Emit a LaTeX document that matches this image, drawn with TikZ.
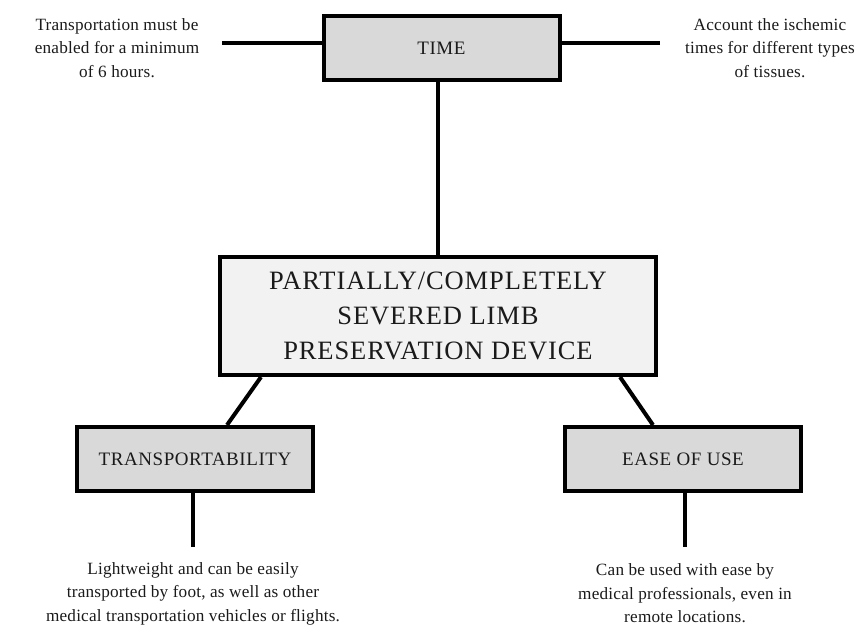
\documentclass[tikz,border=0pt]{standalone}
\usepackage{fontspec}
\setmainfont{Liberation Serif}
\newfontfamily\bodyfont[LetterSpace=1.2]{Liberation Serif}
\newfontfamily\boxfont[LetterSpace=3]{Liberation Serif}
\newfontfamily\mainfont[LetterSpace=3.4]{Liberation Serif}
\definecolor{boxgray}{HTML}{D9D9D9}
\definecolor{maingray}{HTML}{F2F2F2}
\definecolor{inkc}{HTML}{1A1A1A}
\begin{document}
\begin{tikzpicture}[x=1pt,y=-1pt,
  catbox/.style={draw=black,line width=4pt,fill=boxgray,minimum width=236pt,minimum height=64pt,inner sep=0pt,
    font=\boxfont\fontsize{19}{22}\selectfont,text=inkc},
  mainbox/.style={draw=black,line width=4pt,fill=maingray,minimum width=436pt,minimum height=118pt,inner sep=0pt,
    align=center,font=\mainfont\fontsize{26.5}{35}\selectfont,text=inkc},
  note/.style={align=center,inner sep=0pt,font=\bodyfont\fontsize{17.2}{23.5}\selectfont,text=inkc},
  conn/.style={line width=4pt,draw=black}]
\useasboundingbox (0,0) rectangle (859,630);
\node[catbox] (time) at (441.5,48) {TIME};
\node[mainbox] (main) at (438,316) {PARTIALLY/COMPLETELY\\SEVERED LIMB\\PRESERVATION DEVICE};
\node[catbox] (trans) at (195,459) {TRANSPORTABILITY};
\node[catbox] (ease) at (683,459) {EASE OF USE};
\node[note] (tleft) at (117,48) {Transportation must be\\enabled for a minimum\\of 6 hours.};
\node[note] (tright) at (770,48) {Account the ischemic\\times for different types\\of tissues.};
\node[note] (bleft) at (193,593.5) {Lightweight and can be easily\\transported by foot, as well as other\\medical transportation vehicles or flights.};
\node[note] (bright) at (685,593.5) {Can be used with ease by\\medical professionals, even in\\remote locations.};
\coordinate (lend) at (222,43);
\coordinate (rend) at (660,43);
\coordinate (tdown) at (193,547);
\coordinate (edown) at (685,547);
\draw[conn] (lend) -- (lend -| time.west);
\draw[conn] (rend) -- (rend -| time.east);
\draw[conn] (main.north |- time.south) -- (main.north);
\draw[conn] ([xshift=43pt]main.south west) -- ([xshift=32pt]trans.north);
\draw[conn] ([xshift=-38pt]main.south east) -- ([xshift=-30pt]ease.north);
\draw[conn] (tdown |- trans.south) -- (tdown);
\draw[conn] (edown |- ease.south) -- (edown);
\end{tikzpicture}
\end{document}
